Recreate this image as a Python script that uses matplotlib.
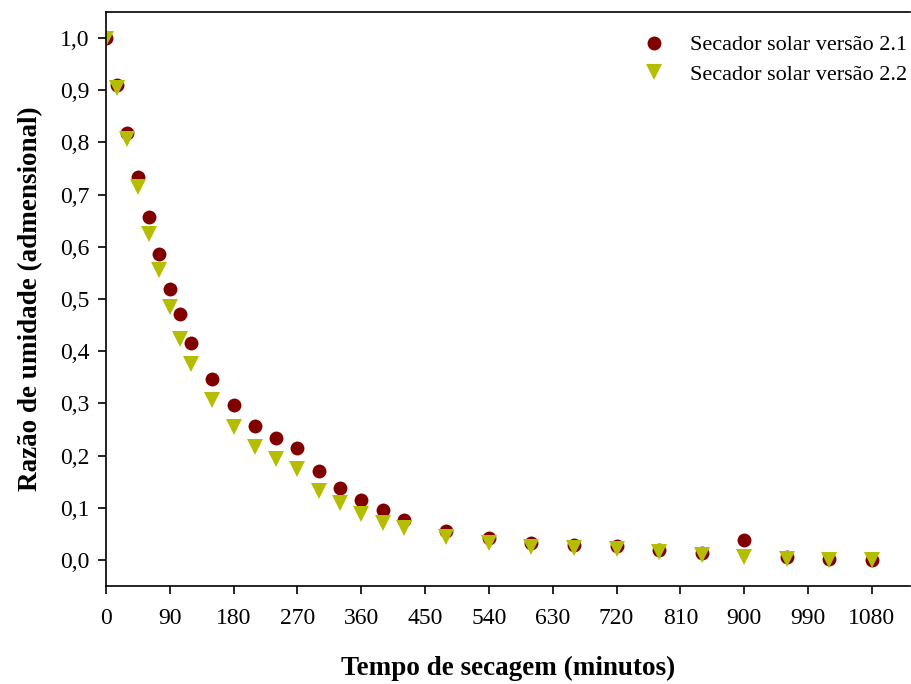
import numpy as np
import matplotlib
matplotlib.use("Agg")
import matplotlib.pyplot as plt
from matplotlib.ticker import FuncFormatter

tempo = [0, 15, 30, 45, 60, 75, 90, 105, 120, 150, 180, 210, 240, 270, 300,
         330, 360, 390, 420, 480, 540, 600, 660, 720, 780, 840, 900, 960, 1020, 1080]

versao_21 = [1.000, 0.910, 0.818, 0.734, 0.658, 0.587, 0.520, 0.472, 0.415, 0.346,
             0.296, 0.256, 0.233, 0.214, 0.170, 0.138, 0.115, 0.096, 0.076, 0.055,
             0.042, 0.033, 0.029, 0.027, 0.019, 0.013, 0.038, 0.006, 0.002, 0.000]

versao_22 = [0.998, 0.905, 0.807, 0.715, 0.625, 0.555, 0.484, 0.423, 0.375, 0.306,
             0.254, 0.216, 0.193, 0.174, 0.132, 0.109, 0.088, 0.071, 0.061, 0.044,
             0.033, 0.025, 0.023, 0.021, 0.015, 0.010, 0.006, 0.002, 0.000, 0.000]

plt.rcParams['font.family'] = ['Liberation Serif', 'DejaVu Serif']

fig = plt.figure(figsize=(9.12, 6.84), dpi=100)
# o quadro continua além da borda direita da figura
ax = fig.add_axes([0.1162, 0.1433, 0.8818, 0.8392])

ax.plot(tempo, versao_21, 'o', color='#800000', markersize=10,
        markeredgewidth=0, label='Secador solar versão 2.1')
ax.plot(tempo, versao_22, 'v', color='#b5bd00', markersize=12,
        markeredgewidth=0, label='Secador solar versão 2.2')

ax.set_xlim(0, 1134)
ax.set_ylim(-0.05, 1.05)
ax.set_xticks(np.arange(0, 1081, 90))
ax.set_yticks(np.arange(0, 1.01, 0.1))
ax.yaxis.set_major_formatter(FuncFormatter(lambda v, p: f"{v:.1f}".replace('.', ',')))

ax.tick_params(direction='out', length=6, width=1.2, labelsize=17)
ax.tick_params(axis='x', pad=10)
ax.tick_params(axis='y', pad=6)
for s in ax.spines.values():
    s.set_linewidth(1.2)
ax.spines['right'].set_visible(False)

ax.set_xlabel('Tempo de secagem (minutos)', fontsize=19.5, fontweight='bold', labelpad=19)
ax.set_ylabel('Razão de umidade (admensional)', fontsize=19.5, fontweight='bold', labelpad=12)

ax.legend(loc='upper right', bbox_to_anchor=(1.007, 0.9756), frameon=False,
          fontsize=16, handletextpad=0.6, borderaxespad=0, labelspacing=0.4)

fig.savefig('out.png', dpi=100)
